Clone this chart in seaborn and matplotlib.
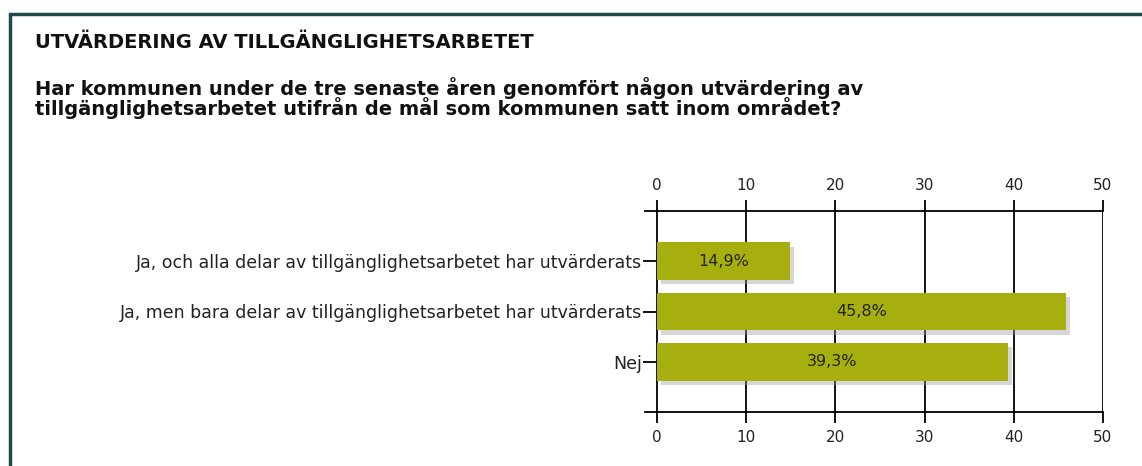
import matplotlib
matplotlib.use("Agg")
import matplotlib.pyplot as plt
import matplotlib.patheffects as pe
from matplotlib.lines import Line2D
import seaborn as sns
import pandas as pd

categories = [
    "Ja, och alla delar av tillgänglighetsarbetet har utvärderats",
    "Ja, men bara delar av tillgänglighetsarbetet har utvärderats",
    "Nej",
]
values = [14.9, 45.8, 39.3]
bar_labels = ["14,9%", "45,8%", "39,3%"]
xticks = [0, 10, 20, 30, 40, 50]
title = "UTVÄRDERING AV TILLGÄNGLIGHETSARBETET"
subtitle = ("Har kommunen under de tre senaste åren genomfört någon utvärdering av\n"
            "tillgänglighetsarbetet utifrån de mål som kommunen satt inom området?")

sns.set_theme(style="white")
plt.rcParams["font.family"] = ["DejaVu Sans"]

W, H = 1142, 466
fig = plt.figure(figsize=(W / 100, H / 100), dpi=100)
fig.patch.set_facecolor("white")

x0, x1 = 645, 1103
y0, y1 = 211, 412
ax = fig.add_axes([x0 / W, 1 - y1 / H, (x1 - x0) / W, (y1 - y0) / H])

df = pd.DataFrame({"cat": categories, "val": values})
sns.barplot(data=df, y="cat", x="val", orient="h", color="#a7af0f",
            saturation=1, width=0.75, ax=ax, zorder=3)

for p in ax.patches:
    p.set_path_effects([pe.withSimplePatchShadow(offset=(3, -3), shadow_rgbFace="#999999", alpha=0.4)])
    p.set_edgecolor("none")

for i, (v, lab) in enumerate(zip(values, bar_labels)):
    ax.text(v / 2, i, lab, ha="center", va="center", fontsize=11.5,
            color="#23230a", zorder=5)

ax.set_xlim(-1.35, 50)
ax.set_ylim(3, -1)
ax.set_xticks(xticks)
ax.set_xticklabels([str(t) for t in xticks])
ax.set_xlabel("")
ax.set_ylabel("")

for t in xticks[1:]:
    ax.axvline(t, color="black", lw=1.3, zorder=1)

ax.spines["left"].set_position(("data", 0))
for s in ["left", "top", "bottom"]:
    ax.spines[s].set_visible(True)
    ax.spines[s].set_color("black")
    ax.spines[s].set_linewidth(1.3)
ax.spines["right"].set_visible(False)

ax.tick_params(axis="x", which="both", top=True, bottom=True, labeltop=True,
               labelbottom=True, direction="out", length=8, width=1.3,
               color="black", labelsize=11, pad=5, labelcolor="#222222")
ax.tick_params(axis="y", direction="out", length=10, width=1.3, color="black",
               labelsize=12.5, pad=1, labelcolor="#222222", left=True)

# frame lines
fig.add_artist(Line2D([10 / W, 1], [1 - 14 / H, 1 - 14 / H], color="#1d4a4a", lw=2.5))
fig.add_artist(Line2D([10 / W, 10 / W], [0, 1 - 14 / H], color="#1d4a4a", lw=2.5))

fig.text(35 / W, 1 - 43 / H, title, ha="left", va="center", fontsize=14,
         fontweight="bold", color="#111111")
fig.text(35 / W, 1 - 98 / H, subtitle, ha="left", va="center", fontsize=14,
         fontweight="bold", color="#111111", linespacing=0.9)

fig.savefig("out.png", dpi=100, facecolor="white")
